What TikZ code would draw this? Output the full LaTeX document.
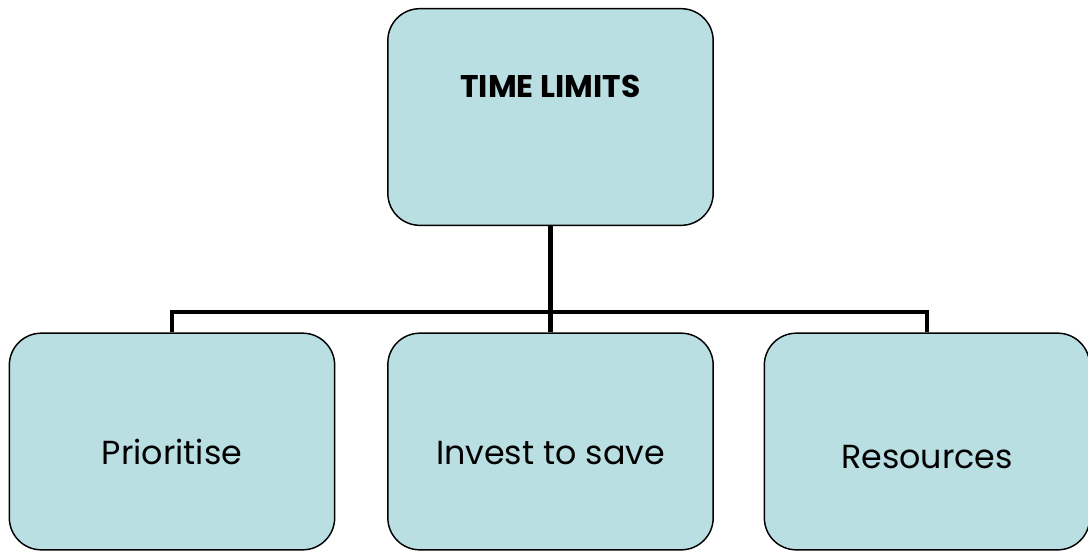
\documentclass[tikz,border=0pt]{standalone}
\usepackage{fontspec}
\setmainfont{Poppins}
\usetikzlibrary{positioning}
\definecolor{boxfill}{HTML}{BADFE3}
\tikzset{
  box/.style={draw=black, line width=1.1pt, fill=boxfill, rounded corners=24pt,
    minimum width=244pt, minimum height=162.5pt, inner sep=0pt,
    font=\fontsize{25}{30}\selectfont, text depth=0pt, text height=34pt},
  conn/.style={line width=3.4pt, line join=miter},
}
\begin{document}
\begin{tikzpicture}[x=0.75pt,y=-0.75pt]
\useasboundingbox (0,0) rectangle (1088,551);
% boxes
\node[box] (limits) at (550.5,117) {};
\node[anchor=base, font=\fontsize{23.5}{28}\selectfont\bfseries] (title) at ([yshift=-67pt]limits.north) {TIME LIMITS};
\node[box] (prio) at (172,441.5) {Prioritise};
\node[box] (invest) at (550.5,441.5) {Invest to save};
\node[box, text height=41pt] (res) at (927,441.5) {Resources};
% connectors
\coordinate (bus) at (550.5,312);
\draw[conn] (limits.south) -- (invest.north);
\draw[conn] (prio.north) -- (prio.north |- bus) -- (res.north |- bus) -- (res.north);
\end{tikzpicture}
\end{document}
